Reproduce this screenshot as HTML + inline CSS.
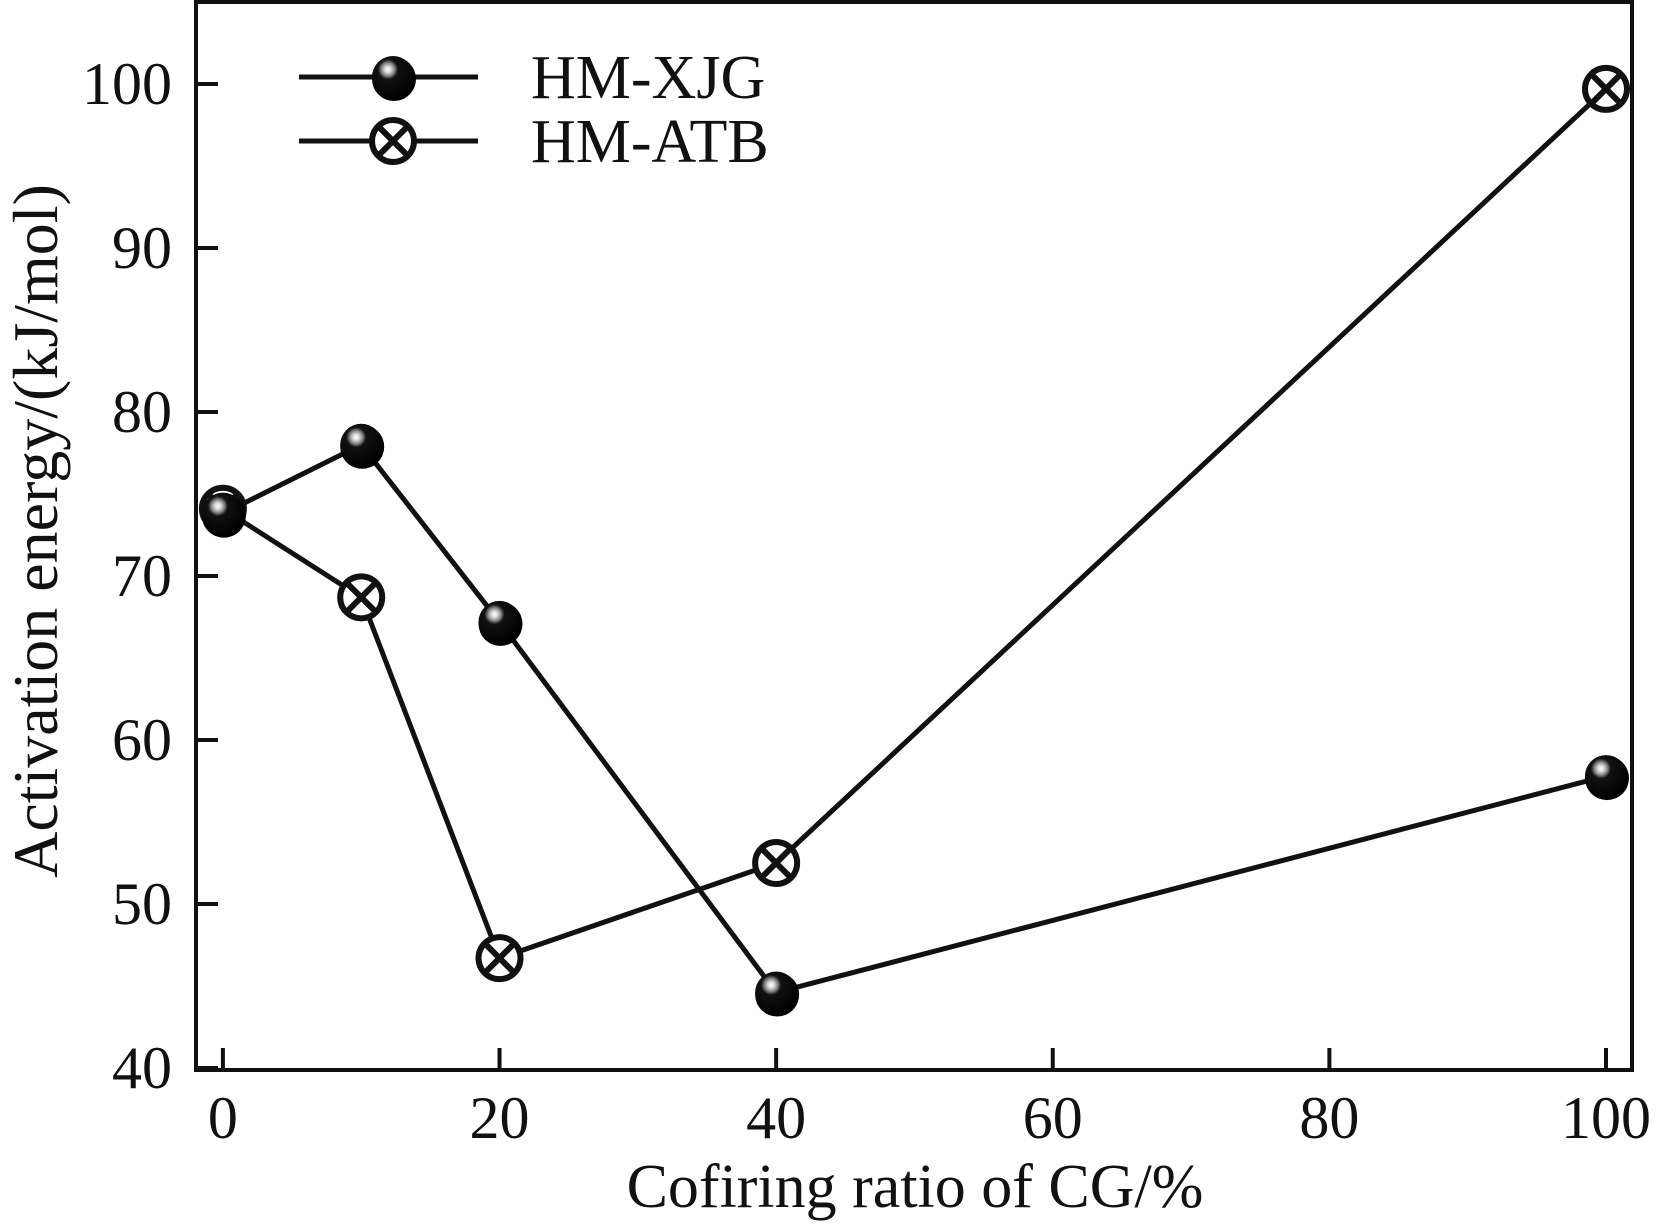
<!DOCTYPE html>
<html><head><meta charset="utf-8"><style>
html,body{margin:0;padding:0;background:#fff;}
svg{display:block;font-family:"Liberation Serif",serif;}
</style></head><body>
<svg id="chart" width="1664" height="1227" viewBox="0 0 1664 1227">
<defs>
<radialGradient id="ball" cx="0.38" cy="0.32" r="0.7">
<stop offset="0" stop-color="#fff"/><stop offset="0.1" stop-color="#ddd"/><stop offset="0.22" stop-color="#888"/><stop offset="0.34" stop-color="#111"/><stop offset="1" stop-color="#000"/>
</radialGradient>
</defs>
<g id="axes"></g>
<g id="series"></g>
<g id="legend"></g>
</svg>
<script>
const xTicks=[0,20,40,60,80,100];
const yTicks=[40,50,60,70,80,90,100];
const xVals=[0,10,20,40,100];
const xjg=[73.8,78.0,67.2,44.6,57.8];
const atb=[74.1,68.7,46.7,52.5,99.7];
const NS="http://www.w3.org/2000/svg";
const X=v=>222.9+(v-0)*(1606-222.9)/100;
const Y=v=>1068+(v-40)*(84-1068)/60;
function mk(t,a,p){const e=document.createElementNS(NS,t);for(const k in a)e.setAttribute(k,a[k]);p.appendChild(e);return e;}
const ax=document.getElementById('axes');
const frame=mk('rect',{x:196,y:2,width:1436,height:1068,fill:'none',stroke:'#111','stroke-width':4},ax);


xTicks.forEach(v=>{
 const t=mk('line',{x1:X(v),x2:X(v),y1:1070,y2:1048,stroke:'#111','stroke-width':4},ax);
 
 
 const l=mk('text',{x:X(v),y:1138,'text-anchor':'middle','font-size':60,fill:'#111'},ax);l.textContent=v;
 
 
});
yTicks.forEach(v=>{
 const t=mk('line',{x1:196,x2:218,y1:Y(v),y2:Y(v),stroke:'#111','stroke-width':4},ax);
 
 
 const l=mk('text',{x:172,y:Y(v)+20,'text-anchor':'end','font-size':60,fill:'#111'},ax);l.textContent=v;
 
 
});
const xt=mk('text',{x:915,y:1207,'text-anchor':'middle','font-size':62,fill:'#111'},ax);xt.textContent='Cofiring ratio of CG/%';


const yt=mk('text',{x:0,y:0,'text-anchor':'middle','font-size':64,fill:'#111',transform:'translate(57,531) rotate(-90)'},ax);yt.textContent='Activation energy/(kJ/mol)';


const sg=document.getElementById('series');
function ball(cx,cy,p){const g=mk('g',{},p);mk('circle',{cx:cx+1,cy:cy+2,r:22,fill:'#000'},g);mk('circle',{cx:cx,cy:cy,r:21,fill:'url(#ball)'},g);return g;}
function cross(cx,cy,p){const g=mk('g',{},p);const r=21;mk('circle',{cx,cy,r,fill:'#fff',stroke:'#111','stroke-width':6},g);const d=r*0.75;
 mk('line',{x1:cx-d,y1:cy-d,x2:cx+d,y2:cy+d,stroke:'#111','stroke-width':6},g);mk('line',{x1:cx-d,y1:cy+d,x2:cx+d,y2:cy-d,stroke:'#111','stroke-width':6},g);return g;}
function series(vals,name,marker){
 const pts=xVals.map((x,i)=>X(x)+','+Y(vals[i])).join(' ');
 const pl=mk('polyline',{points:pts,fill:'none',stroke:'#111','stroke-width':5},sg);
 
 
 xVals.forEach((x,i)=>{const m=marker(X(x),Y(vals[i]),sg);
  
  });
}
series(atb,'hm-atb',cross);
series(xjg,'hm-xjg',ball);
const lg=document.getElementById('legend');
[[77,'HM-XJG',ball],[141,'HM-ATB',cross]].forEach(([y,n,f])=>{
 const g=mk('g',{},lg);
 
 
 mk('line',{x1:299,x2:478,y1:y,y2:y,stroke:'#111','stroke-width':5},g);
 f(393,y,g);
 const t=mk('text',{x:531,y:y+21,'font-size':62,fill:'#111'},g);t.textContent=n;
});
</script>
</body></html>
